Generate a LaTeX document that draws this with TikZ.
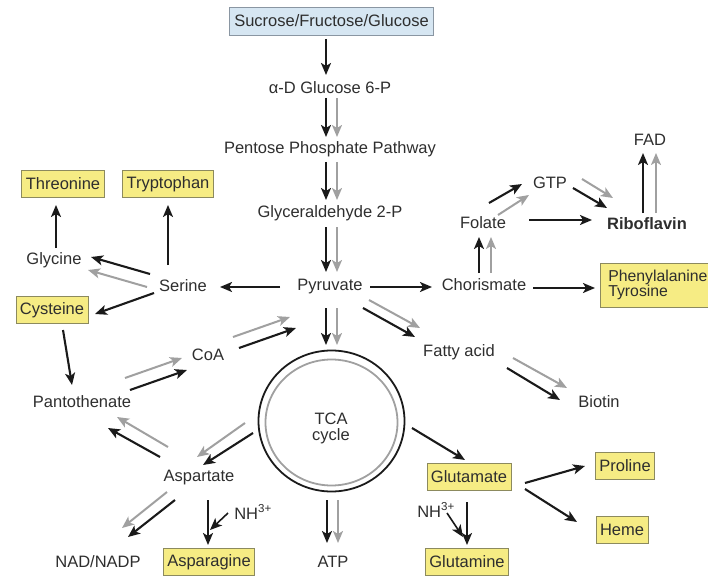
\documentclass[tikz,border=0pt]{standalone}
\usepackage{fontspec}
\setmainfont{Liberation Sans}
\usetikzlibrary{arrows.meta,shapes.geometric}
\definecolor{txt}{HTML}{2E2E2E}
\definecolor{ylw}{HTML}{F6EC84}
\definecolor{ylwb}{HTML}{8C8A5E}
\definecolor{blu}{HTML}{D6E6F2}
\definecolor{blub}{HTML}{8A96A2}
\definecolor{blk}{HTML}{1A1A1A}
\definecolor{gry}{HTML}{A0A0A0}
\tikzset{
  lbl/.style={text=txt,font=\fontsize{16.5}{18}\selectfont,inner sep=1pt},
  ybox/.style={lbl,draw=ylwb,fill=ylw,line width=0.8pt,inner xsep=4pt,minimum height=27pt},
  bbox/.style={lbl,draw=blub,fill=blu,line width=0.8pt,inner xsep=5pt,minimum height=28pt},
  ba/.style={draw=blk,line width=2.1pt,-{Stealth[length=12pt,width=10pt,inset=3pt]}},
  ga/.style={draw=gry,line width=2pt,-{Stealth[length=12pt,width=10pt,inset=3pt]}},
}
\begin{document}
\begin{tikzpicture}[x=1pt,y=-1pt]
\useasboundingbox (0,0) rectangle (708,577);
% nodes
\node[bbox] (suc) at (331.5,21) {Sucrose/Fructose/Glucose};
\node[lbl] (glc) at (330,88) {α-D Glucose 6-P};
\node[lbl] (ppp) at (330,149) {Pentose Phosphate Pathway};
\node[lbl] (gly3) at (330,213) {Glyceraldehyde 2-P};
\node[lbl] (pyr) at (330,287) {Pyruvate};
\node[lbl] (ser) at (183,286) {Serine};
\node[lbl] (glyc) at (54,260) {Glycine};
\node[ybox] (thr) at (63,184) {Threonine};
\node[ybox] (trp) at (168,184) {Tryptophan};
\node[ybox] (cys) at (52,310) {Cysteine};
\node[lbl] (pan) at (82,402) {Pantothenate};
\node[lbl] (coa) at (208,355) {CoA};
\node[draw=blk,line width=1.8pt,ellipse,minimum width=146pt,minimum height=141pt,inner sep=0pt] (tca) at (331.5,421) {};
\node[draw=gry,line width=1.8pt,ellipse,minimum width=132pt,minimum height=126pt,inner sep=0pt] (tcai) at (331.5,422.5) {};
\node[lbl,align=center] (tcat) at (331,428) {TCA\\[-2pt]cycle};
\node[lbl] (asp) at (199,478) {Aspartate};
\node[lbl] (nad) at (98,562) {NAD/NADP};
\node[ybox] (asn) at (209,562) {Asparagine};
\node[lbl] (nh1) at (253,512) {NH\textsuperscript{3+}};
\node[lbl] (atp) at (333,562) {ATP};
\node[ybox] (glu) at (469,477) {Glutamate};
\node[lbl] (nh2) at (436,510) {NH\textsuperscript{3+}};
\node[ybox] (gln) at (467,562) {Glutamine};
\node[ybox] (pro) at (625,466) {Proline};
\node[ybox] (heme) at (622,530) {Heme};
\node[lbl] (fat) at (459,352) {Fatty acid};
\node[lbl] (bio) at (599,402) {Biotin};
\node[lbl] (cho) at (484,285) {Chorismate};
\node[ybox,anchor=west,align=left,minimum width=115pt,minimum height=44pt,inner xsep=1.5pt,font=\fontsize{15.8}{17.5}\selectfont] (phe) at (600,285) {Phenylalanine\\[-2pt]Tyrosine};
\node[lbl] (fol) at (483,223) {Folate};
\node[lbl] (gtp) at (550,183) {GTP};
\node[lbl,font=\fontsize{16.5}{18}\selectfont\bfseries] (rib) at (647,224) {Riboflavin};
\node[lbl] (fad) at (650,140) {FAD};
% arrows
\draw[ba] ([shift={(-5.5,18)}]suc.center) -- ([shift={(-4,-13)}]glc.center);
\draw[ba] ([shift={(-4,10)}]glc.center) -- ([shift={(-4,-12)}]ppp.center);
\draw[ga] ([shift={(7,10)}]glc.center) -- ([shift={(7,-12)}]ppp.center);
\draw[ba] ([shift={(-4,13)}]ppp.center) -- ([shift={(-4,-13)}]gly3.center);
\draw[ga] ([shift={(7,13)}]ppp.center) -- ([shift={(7,-13)}]gly3.center);
\draw[ba] ([shift={(-4,14)}]gly3.center) -- ([shift={(-4,-15)}]pyr.center);
\draw[ga] ([shift={(7,14)}]gly3.center) -- ([shift={(7,-15)}]pyr.center);
\draw[ba] ([shift={(-50,0)}]pyr.center) -- ([shift={(37,1)}]ser.center);
\draw[ba] ([shift={(-33,-12)}]ser.center) -- ([shift={(37,-3)}]glyc.center);
\draw[ga] ([shift={(-36,1)}]ser.center) -- ([shift={(34,10)}]glyc.center);
\draw[ba] ([shift={(-29,7)}]ser.center) -- ([shift={(43,4)}]cys.center);
\draw[ba] ([shift={(-15,-21)}]ser.center) -- ([shift={(0,21)}]trp.center);
\draw[ba] ([shift={(2,-12)}]glyc.center) -- ([shift={(-7,21)}]thr.center);
\draw[ba] ([shift={(11,20)}]cys.center) -- ([shift={(-10,-17)}]pan.center);
\draw[ga] ([shift={(43,-24)}]pan.center) -- ([shift={(-26,3)}]coa.center);
\draw[ba] ([shift={(48,-12)}]pan.center) -- ([shift={(-21,15)}]coa.center);
\draw[ga] ([shift={(25,-18)}]coa.center) -- ([shift={(-40,30)}]pyr.center);
\draw[ba] ([shift={(31,-7)}]coa.center) -- ([shift={(-34,41)}]pyr.center);
\draw[ba] ([shift={(-4,21)}]pyr.center) -- ([shift={(-5.5,-76)}]tca.center);
\draw[ga] ([shift={(7,21)}]pyr.center) -- ([shift={(5.5,-76)}]tca.center);
\draw[ga] ([shift={(39,13)}]pyr.center) -- ([shift={(-39,-24)}]fat.center);
\draw[ba] ([shift={(33,21)}]pyr.center) -- ([shift={(-44,-15)}]fat.center);
\draw[ba] ([shift={(40,0)}]pyr.center) -- ([shift={(-52,2)}]cho.center);
\draw[ba] ([shift={(49,3)}]cho.center) -- ([shift={(-5,3)}]phe.west);
\draw[ba] ([shift={(-5,-12)}]cho.center) -- ([shift={(-4,14)}]fol.center);
\draw[ga] ([shift={(7,-12)}]cho.center) -- ([shift={(8,14)}]fol.center);
\draw[ba] ([shift={(6,-20)}]fol.center) -- ([shift={(-28,1)}]gtp.center);
\draw[ga] ([shift={(15,-8)}]fol.center) -- ([shift={(-21,12)}]gtp.center);
\draw[ba] ([shift={(46,-3)}]fol.center) -- ([shift={(-55,-4)}]rib.center);
\draw[ga] ([shift={(32,-4)}]gtp.center) -- ([shift={(-34,-26)}]rib.center);
\draw[ba] ([shift={(23,5)}]gtp.center) -- ([shift={(-40,-16)}]rib.center);
\draw[ba] ([shift={(-4,-11)}]rib.center) -- ([shift={(-7,13)}]fad.center);
\draw[ga] ([shift={(9,-11)}]rib.center) -- ([shift={(6,13)}]fad.center);
\draw[ga] ([shift={(54,6)}]fat.center) -- ([shift={(-32,-14)}]bio.center);
\draw[ba] ([shift={(48,16)}]fat.center) -- ([shift={(-39,-2)}]bio.center);
\draw[ba] ([shift={(80.5,7)}]tca.center) -- ([shift={(-4,-17)}]glu.center);
\draw[ba] ([shift={(56,6)}]glu.center) -- ([shift={(-40,0)}]pro.center);
\draw[ba] ([shift={(56,12)}]glu.center) -- ([shift={(-45,-8)}]heme.center);
\draw[ba] ([shift={(-2,25)}]glu.center) -- ([shift={(0,-17)}]gln.center);
\draw[ba,line width=1.6pt] ([shift={(11,3)}]nh2.center) -- ([shift={(-4,-25)}]gln.center);
\draw[ba] ([shift={(-78.5,12)}]tca.center) -- ([shift={(4,-13)}]asp.center);
\draw[ga] ([shift={(-86.5,2)}]tca.center) -- ([shift={(-2,-21)}]asp.center);
\draw[ga] ([shift={(-31,-31)}]asp.center) -- ([shift={(35,15)}]pan.center);
\draw[ba] ([shift={(-39,-21)}]asp.center) -- ([shift={(26,26)}]pan.center);
\draw[ga] ([shift={(-32,14)}]asp.center) -- ([shift={(24,-34)}]nad.center);
\draw[ba] ([shift={(-24,22)}]asp.center) -- ([shift={(30,-25)}]nad.center);
\draw[ba] ([shift={(9,22)}]asp.center) -- ([shift={(-1,-17)}]asn.center);
\draw[ba,line width=1.6pt] ([shift={(-25,1)}]nh1.center) -- ([shift={(1,-32)}]asn.center);
\draw[ba] ([shift={(-4.5,79)}]tca.center) -- ([shift={(-6,-19)}]atp.center);
\draw[ga] ([shift={(6.5,79)}]tca.center) -- ([shift={(5,-19)}]atp.center);
\end{tikzpicture}
\end{document}
